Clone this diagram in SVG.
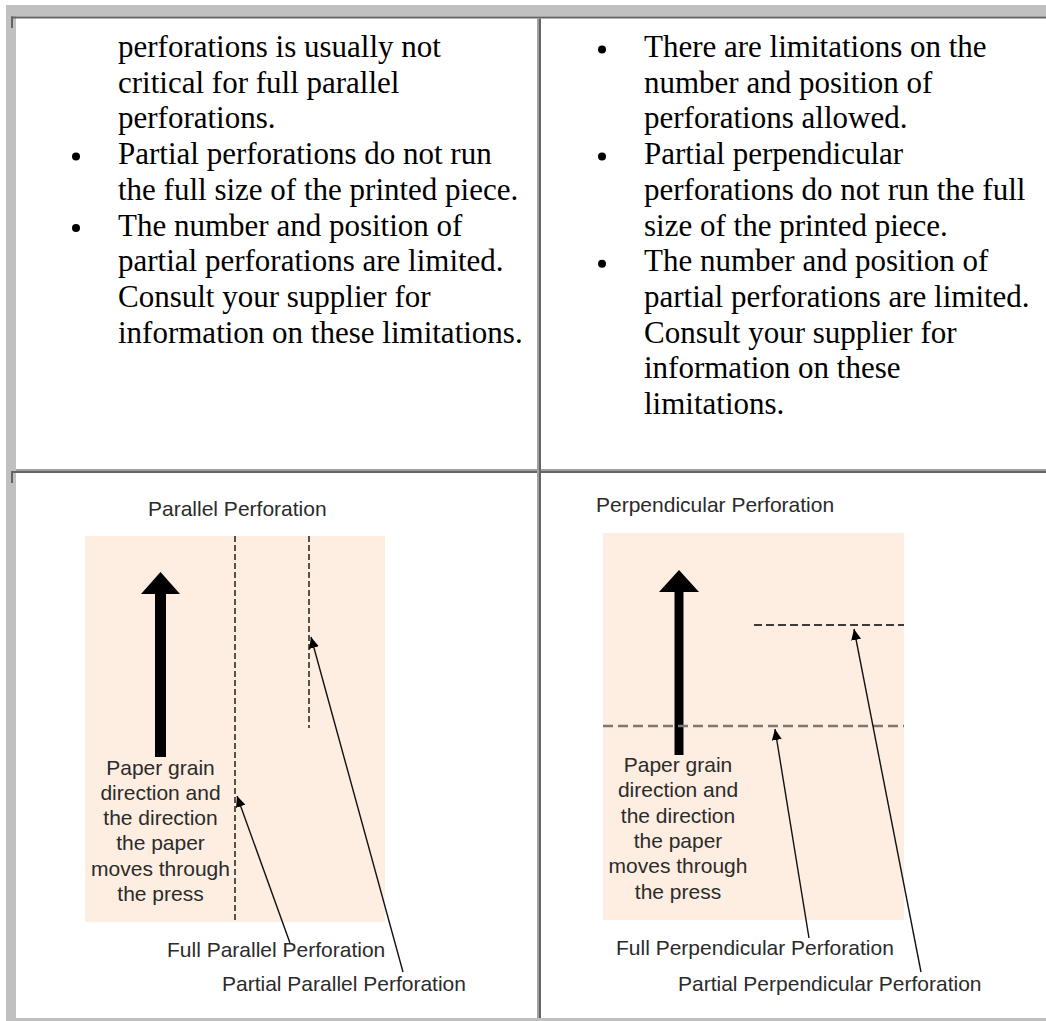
<svg xmlns="http://www.w3.org/2000/svg" width="1046" height="1021" viewBox="0 0 1046 1021">
<defs>
<style>
.body{font-family:"Liberation Serif","Times New Roman",serif;font-size:31px;fill:#000}
.lbl{font-family:"Liberation Sans",Arial,sans-serif;font-size:21px;fill:#2b2b2b}
.mid{text-anchor:middle}
.gray{fill:#c0c0c0}
.dark{fill:#646464}
.light{fill:#a0a0a0}
.paper{fill:#fdeee1}
.bigarrow{fill:#000}
.perf{stroke:#000;stroke-width:1.3;fill:none;stroke-dasharray:6 3}
.perfh{stroke:#000;stroke-width:1.4;fill:none;stroke-dasharray:8 4}
.perfg{stroke:#7d7873;stroke-width:2.6;fill:none;stroke-dasharray:10 5}
.lead{stroke:#111;stroke-width:1.4;fill:none;marker-end:url(#ah)}
</style>
<marker id="ah" markerUnits="userSpaceOnUse" markerWidth="12" markerHeight="10" refX="11" refY="5" orient="auto"><path d="M0,0 L11,5 L0,10 z" fill="#000"/></marker>
</defs>
<rect x="0" y="0" width="1046" height="1021" fill="#fff"/>
<g id="frame">
<rect class="gray" x="6" y="5" width="1040" height="11.5"/>
<rect class="gray" x="6" y="5" width="10" height="1016"/>
<rect class="gray" x="6" y="1018" width="1040" height="3"/>
<rect class="dark" x="11" y="16.5" width="1035" height="2"/>
<rect class="dark" x="11" y="16.5" width="2" height="11.5"/>
<rect class="light" x="16" y="469" width="1030" height="2"/>
<rect class="dark" x="11" y="471" width="1035" height="2"/>
<rect class="dark" x="11" y="471" width="2" height="12"/>
<rect class="light" x="537" y="18.5" width="2" height="999.5"/>
<rect class="dark" x="539" y="18.5" width="2" height="999.5"/>
</g>
<g id="left-text" class="body">
<text x="118" y="57">perforations is usually not</text>
<text x="118" y="92.7">critical for full parallel</text>
<text x="118" y="128.4">perforations.</text>
<circle cx="76" cy="156.5" r="4"/>
<text x="118" y="164.1">Partial perforations do not run</text>
<text x="118" y="199.8">the full size of the printed piece.</text>
<circle cx="76" cy="228" r="4"/>
<text x="118" y="235.5">The number and position of</text>
<text x="118" y="271.2">partial perforations are limited.</text>
<text x="118" y="306.9">Consult your supplier for</text>
<text x="118" y="342.6">information on these limitations.</text>
</g>
<g id="right-text" class="body">
<circle cx="602" cy="49.5" r="4"/>
<text x="644" y="57">There are limitations on the</text>
<text x="644" y="92.7">number and position of</text>
<text x="644" y="128.4">perforations allowed.</text>
<circle cx="602" cy="156.5" r="4"/>
<text x="644" y="164.1">Partial perpendicular</text>
<text x="644" y="199.8">perforations do not run the full</text>
<text x="644" y="235.5">size of the printed piece.</text>
<circle cx="602" cy="263.7" r="4"/>
<text x="644" y="271.2">The number and position of</text>
<text x="644" y="306.9">partial perforations are limited.</text>
<text x="644" y="342.6">Consult your supplier for</text>
<text x="644" y="378.3">information on these</text>
<text x="644" y="414">limitations.</text>
</g>
<g id="parallel-diagram">
<rect class="paper" x="85" y="536" width="300" height="386"/>
<text class="lbl" x="148" y="516">Parallel Perforation</text>
<polygon class="bigarrow" points="160.5,572 180,594 166,594 166,757 155,757 155,594 141,594"/>
<line id="full-parallel" class="perf" x1="235" y1="536" x2="235" y2="922"/>
<line id="partial-parallel" class="perf" x1="309" y1="536" x2="309" y2="728"/>
<g class="lbl mid">
<text x="160.5" y="774.5">Paper grain</text>
<text x="160.5" y="799.8">direction and</text>
<text x="160.5" y="825.1">the direction</text>
<text x="160.5" y="850.4">the paper</text>
<text x="160.5" y="875.7">moves through</text>
<text x="160.5" y="901">the press</text>
</g>
<text id="lbl-full-parallel" class="lbl" x="167" y="957">Full Parallel Perforation</text>
<text id="lbl-partial-parallel" class="lbl" x="222" y="991">Partial Parallel Perforation</text>
</g>
<g id="perpendicular-diagram">
<rect class="paper" x="603" y="533" width="301" height="387"/>
<text class="lbl" x="596" y="512">Perpendicular Perforation</text>
<polygon class="bigarrow" points="679,570 699,592 683.5,592 683.5,755 674.5,755 674.5,592 659,592"/>
<line id="partial-perp" class="perfh" x1="754" y1="625" x2="904" y2="625"/>
<line id="full-perp" class="perfg" x1="603" y1="726" x2="904" y2="726"/>
<g class="lbl mid">
<text x="678" y="772">Paper grain</text>
<text x="678" y="797.3">direction and</text>
<text x="678" y="822.6">the direction</text>
<text x="678" y="847.9">the paper</text>
<text x="678" y="873.2">moves through</text>
<text x="678" y="898.5">the press</text>
</g>
<text id="lbl-full-perp" class="lbl" x="616" y="955">Full Perpendicular Perforation</text>
<text id="lbl-partial-perp" class="lbl" x="678" y="991">Partial Perpendicular Perforation</text>
</g>
<g id="connectors">
<line class="lead" x1="290" y1="943" x2="237" y2="796"/>
<line class="lead" x1="403" y1="972" x2="311" y2="637"/>
<line class="lead" x1="809" y1="938" x2="775" y2="729"/>
<line class="lead" x1="921" y1="972" x2="854" y2="629"/>
</g>
</svg>
